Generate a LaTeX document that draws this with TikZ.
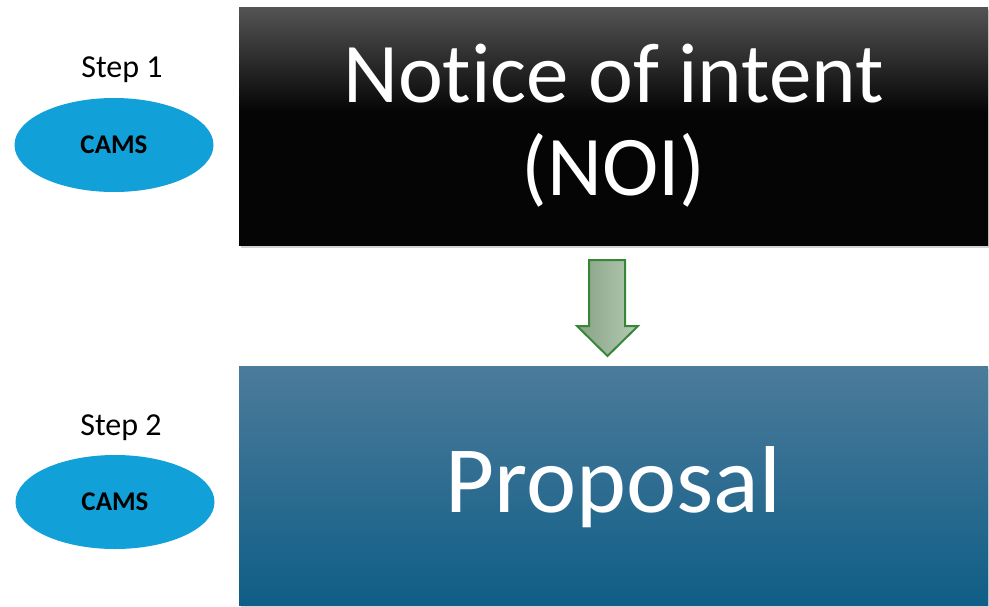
\documentclass[tikz,border=0pt]{standalone}
\usepackage{fontspec}
\setmainfont[Ligatures=NoCommon]{Carlito}
\usetikzlibrary{shapes.geometric,shadows}

\definecolor{camsblue}{RGB}{17,160,216}
\definecolor{noitop}{RGB}{84,84,84}
\definecolor{noibot}{RGB}{5,5,5}
\definecolor{proptop}{RGB}{76,123,155}
\definecolor{propmid}{RGB}{22,104,145}
\definecolor{propbot}{RGB}{15,94,134}
\definecolor{arrowfill}{RGB}{150,180,148}
\definecolor{arrowline}{RGB}{56,135,56}

% dark box: black up to about the middle, grey at the top
\pgfdeclareverticalshading{noishade}{100bp}{color(0bp)=(noibot); color(25bp)=(noibot);
  color(53bp)=(noibot); color(75bp)=(noitop); color(100bp)=(noitop)}

\tikzset{
  steplabel/.style={font=\fontsize{32}{38}\selectfont},
  camsnode/.style={ellipse,fill=camsblue,minimum width=199pt,minimum height=94pt,
    inner sep=0pt,font=\fontsize{27}{32}\selectfont\bfseries},
  bigbox/.style={rectangle,minimum width=749pt,minimum height=238pt,inner sep=0pt,
    text=white,align=center,
    drop shadow={opacity=0.35,shadow xshift=2pt,shadow yshift=-3pt}},
}

\begin{document}
\begin{tikzpicture}[x=1pt,y=-1pt]
  \useasboundingbox (0,0) rectangle (989,606);

  \node[bigbox,font=\fontsize{85}{93}\selectfont,shading=noishade] (noi) at (613.5,126) {\raisebox{-3pt}{Notice of intent}\\\raisebox{-3pt}{(NOI)}};
  \node[bigbox,font=\fontsize{95}{110}\selectfont,text height=53pt,text depth=0pt,top color=proptop,middle color=propmid,bottom color=propbot,minimum height=239pt] (prop) at (613.5,485.5) {Proposal};

  \node[steplabel] (step1) at (122,70) {Step 1};
  \node[camsnode] (cams1) at (114,145) {CAMS};

  \node[steplabel] (step2) at (121,428) {Step 2};
  \node[camsnode] (cams2) at (115,502) {CAMS};

  % block arrow from NOI down to proposal
  \draw[arrowline,line width=2pt,line join=miter,left color=arrowfill!90!black,right color=arrowfill!70!white]
    (589,260) -- (625,260) -- (625,326) -- (638,326) -- (607.5,356)
    -- (577,326) -- (589,326) -- cycle;
\end{tikzpicture}
\end{document}
